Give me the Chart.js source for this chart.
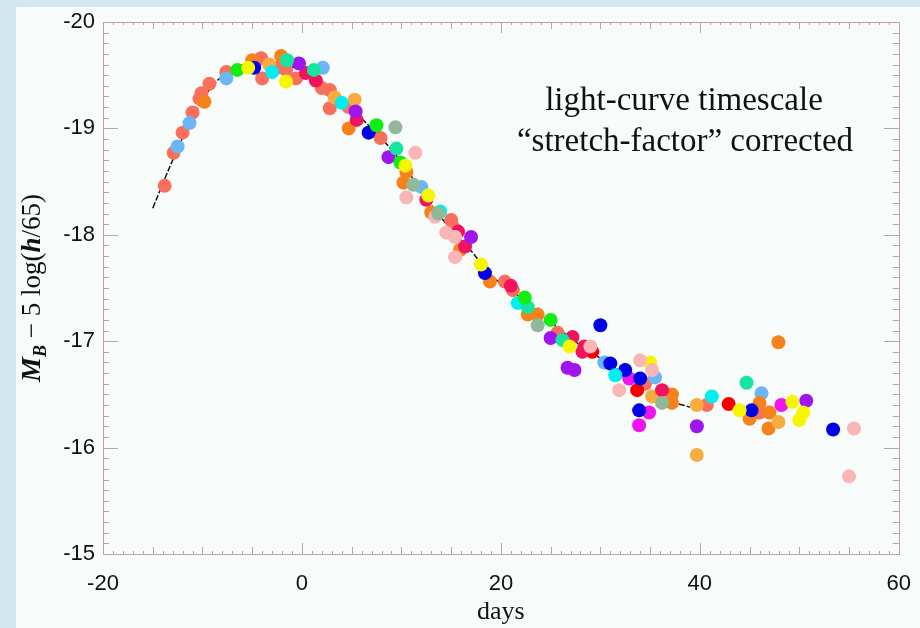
<!DOCTYPE html>
<html>
<head>
<meta charset="utf-8">
<script src="https://cdn.jsdelivr.net/npm/chart.js@4.4.1/dist/chart.umd.min.js"></script>
<style>
  html, body { margin: 0; padding: 0; background: #d2e7ef; width: 920px; height: 628px; overflow: hidden; }
  #panel { position: absolute; left: 16px; top: 7px; width: 904px; height: 621px; background: #f7fbf9; }
</style>
</head>
<body>
<div id="panel"><canvas id="lc" width="904" height="621"></canvas></div>
<script>
// template light curve (days, M_B - 5 log(h/65))
var curveDays = [-15, -13, -11, -9, -7, -5, -3, -1, 1, 3, 5, 7, 9, 11, 13, 15, 17, 19, 21, 23, 25, 27, 29, 31, 33, 35, 37, 39];
var curveMags = [-18.25, -18.7, -19.1, -19.4, -19.55, -19.62, -19.62, -19.58, -19.5, -19.36, -19.18, -19.0, -18.8, -18.55, -18.28, -18.05, -17.85, -17.62, -17.48, -17.33, -17.18, -17.03, -16.9, -16.78, -16.66, -16.54, -16.44, -16.38];

// supernova measurements, one list of [day, mag] per colour
var salmon = [[-13.8,-18.46],[-12.9,-18.77],[-12.0,-18.96],[-11.0,-19.15],[-10.3,-19.28],[-10.1,-19.33],[-9.3,-19.42],[-7.6,-19.53],
  [-4.1,-19.66],[-4.0,-19.47],[-2.5,-19.57],[-1.6,-19.55],[-0.6,-19.47],[2.0,-19.38],[2.8,-19.36],[2.8,-19.19],[4.7,-19.2],
  [7.9,-18.91],[15.0,-18.14],[15.2,-18.07],[20.4,-17.56],[21.2,-17.48],[25.7,-17.08],[34.5,-16.6],[40.7,-16.4],[46.0,-16.33]];
var lightBlue = [[-12.5,-18.83],[-11.3,-19.05],[-7.6,-19.47],[2.1,-19.57],[12.0,-18.45],[30.4,-16.8],[35.5,-16.66],[46.2,-16.51]];
var orange = [[-9.8,-19.25],[-5.0,-19.64],[-2.1,-19.68],[4.7,-19.0],[10.2,-18.49],[10.5,-18.59],[13.0,-18.21],[15.9,-17.86],
  [18.9,-17.56],[23.7,-17.25],[22.7,-17.25],[37.2,-16.5],[37.2,-16.42],[47.9,-16.99],[46.0,-16.42],[47.0,-16.33],[45.0,-16.27],[46.9,-16.18]];
var lightOrange = [[-3.3,-19.6],[3.3,-19.29],[5.3,-19.27],[35.2,-16.48],[39.7,-16.4],[39.7,-15.93],[47.9,-16.24]];
var red = [[33.7,-16.54],[42.9,-16.41],[29.2,-16.9]];
var crimson = [[0.4,-19.52],[1.4,-19.45],[5.5,-19.08],[12.5,-18.33],[15.7,-18.03],[16.4,-17.89],[21.0,-17.52],[27.2,-17.04],
  [28.2,-16.9],[28.4,-16.95],[36.2,-16.54]];
var magenta = [[32.9,-16.65],[34.9,-16.33],[33.9,-16.21],[48.2,-16.4]];
var purple = [[-0.3,-19.61],[5.4,-19.16],[8.7,-18.73],[17.0,-17.98],[25.0,-17.03],[27.4,-16.73],[26.7,-16.75],[39.7,-16.2],[50.7,-16.44]];
var blue = [[-4.8,-19.57],[6.7,-18.96],[18.4,-17.64],[30.0,-17.15],[31.0,-16.79],[32.5,-16.73],[34.0,-16.65],[33.9,-16.35],[45.2,-16.35],[53.4,-16.17]];
var cyan = [[-3.0,-19.53],[4.0,-19.24],[13.9,-18.22],[21.7,-17.36],[31.5,-16.68],[41.2,-16.48]];
var aqua = [[-1.5,-19.64],[1.2,-19.55],[9.5,-18.81],[22.7,-17.32],[26.2,-17.01],[44.7,-16.61]];
var green = [[-6.5,-19.55],[7.5,-19.03],[9.9,-18.68],[22.4,-17.41],[25.0,-17.2]];
var yellow = [[-5.4,-19.57],[-1.6,-19.44],[10.4,-18.65],[12.7,-18.37],[18.0,-17.72],[26.9,-16.95],[35.0,-16.8],[44.0,-16.35],[49.3,-16.43],[50.4,-16.33],[50.0,-16.26]];
var pink = [[10.5,-18.35],[11.4,-18.77],[13.4,-18.17],[14.5,-18.02],[15.4,-17.98],[15.4,-17.79],[29.0,-16.95],[34.0,-16.82],[35.2,-16.73],[31.9,-16.54],[55.5,-16.18],[55.0,-15.73]];
var sage = [[9.4,-19.01],[11.2,-18.47],[13.7,-18.2],[23.7,-17.15],[36.2,-16.42]];

var groups = [
  [sage, '#92b89a'], [pink, '#f8b6b6'], [yellow, '#f6f600'], [green, '#12ee12'], [aqua, '#14e6a0'],
  [cyan, '#00eef0'], [blue, '#0000e6'], [purple, '#a014ee'], [magenta, '#f014ee'], [crimson, '#f0145e'],
  [red, '#f60000'], [lightOrange, '#f8ac40'], [orange, '#f6821c'], [lightBlue, '#6cb6f6'], [salmon, '#f8705c']
];

var datasets = [];
groups.forEach(function(g) {
  datasets.push({
    data: g[0].map(function(p) { return {x: p[0], y: p[1]}; }),
    backgroundColor: g[1],
    borderWidth: 0,
    pointRadius: 7,
    pointHoverRadius: 7,
    order: 1
  });
});
datasets.push({
  data: curveDays.map(function(d, i) { return {x: d, y: curveMags[i]}; }),
  showLine: true,
  borderColor: '#111',
  borderWidth: 1.5,
  borderDash: [6, 2],
  pointRadius: 0,
  tension: 0.4,
  order: 99
});

// frame with inward ticks on all four sides
var frame = {
  id: 'frame',
  afterDatasetsDraw: function(chart) {
    var ctx = chart.ctx, a = chart.chartArea, x = chart.scales.x, y = chart.scales.y;
    ctx.save();
    ctx.strokeStyle = '#bfa0ae';
    ctx.lineWidth = 1;
    ctx.beginPath();
    for (var d = -20; d <= 60; d++) {
      var px = Math.round(x.getPixelForValue(d)) + 0.5;
      var len = d % 20 === 0 ? 11 : (d % 5 === 0 ? 7 : 3);
      ctx.moveTo(px, a.bottom); ctx.lineTo(px, a.bottom - len);
      ctx.moveTo(px, a.top); ctx.lineTo(px, a.top + len);
    }
    for (var i = 0; i <= 50; i++) {
      var py = Math.round(y.getPixelForValue(-20 + i / 10)) + 0.5;
      var l2 = i % 10 === 0 ? 15 : 6;
      ctx.moveTo(a.left, py); ctx.lineTo(a.left + l2, py);
      ctx.moveTo(a.right, py); ctx.lineTo(a.right - l2, py);
    }
    ctx.stroke();
    ctx.strokeRect(Math.round(a.left) + 0.5, Math.round(a.top) + 0.5, Math.round(a.right - a.left), Math.round(a.bottom - a.top));
    ctx.restore();
  }
};

// rotated y title with subscript, and the note in the plot
var labels = {
  id: 'labels',
  afterDraw: function(chart) {
    var ctx = chart.ctx;
    ctx.save();
    ctx.fillStyle = '#111';
    ctx.textBaseline = 'alphabetic';
    ctx.textAlign = 'center';
    ctx.font = '33px "Liberation Serif"';
    ctx.fillText('light-curve timescale', 668, 103);
    ctx.fillText('\u201Cstretch-factor\u201D corrected', 669, 144);

    var parts = [
      ['M', 'italic bold 28px "Liberation Serif"', 0],
      ['B', 'italic bold 18px "Liberation Serif"', 6],
      [' \u2212 5 log(', '27px "Liberation Serif"', 0],
      ['h', 'italic bold 27px "Liberation Serif"', 0],
      ['/65)', '27px "Liberation Serif"', 0]
    ];
    var total = 0;
    parts.forEach(function(p) { ctx.font = p[1]; total += ctx.measureText(p[0]).width; });
    ctx.translate(24, 281);
    ctx.rotate(-Math.PI / 2);
    ctx.textAlign = 'left';
    var cx = -total / 2;
    parts.forEach(function(p) {
      ctx.font = p[1];
      ctx.fillText(p[0], cx, p[2]);
      cx += ctx.measureText(p[0]).width;
    });
    ctx.restore();
  }
};

var tickFont = {family: '"Liberation Sans", Arial, sans-serif', size: 22};

new Chart(document.getElementById('lc').getContext('2d'), {
  type: 'scatter',
  data: {datasets: datasets},
  options: {
    responsive: false,
    animation: false,
    layout: {padding: {top: 15, right: 17, left: 0, bottom: 0}},
    plugins: {legend: {display: false}, tooltip: {enabled: false}},
    scales: {
      x: {
        type: 'linear', min: -20, max: 60,
        grid: {display: false},
        border: {display: false},
        ticks: {stepSize: 20, font: tickFont, color: '#111', padding: 9, maxRotation: 0,
          callback: function(v) { return String(v); }},
        title: {display: true, text: 'days', color: '#111',
          font: {family: '"Liberation Serif", serif', size: 26}, padding: {top: 0, bottom: 0}},
        afterFit: function(s) { s.height = 74; }
      },
      y: {
        type: 'linear', min: -20, max: -15, reverse: true,
        grid: {display: false},
        border: {display: false},
        ticks: {stepSize: 1, font: tickFont, color: '#111', padding: 0,
          callback: function(v) { return String(v); }},
        afterFit: function(s) { s.width = 87; }
      }
    }
  },
  plugins: [frame, labels]
});
</script>
</body>
</html>
